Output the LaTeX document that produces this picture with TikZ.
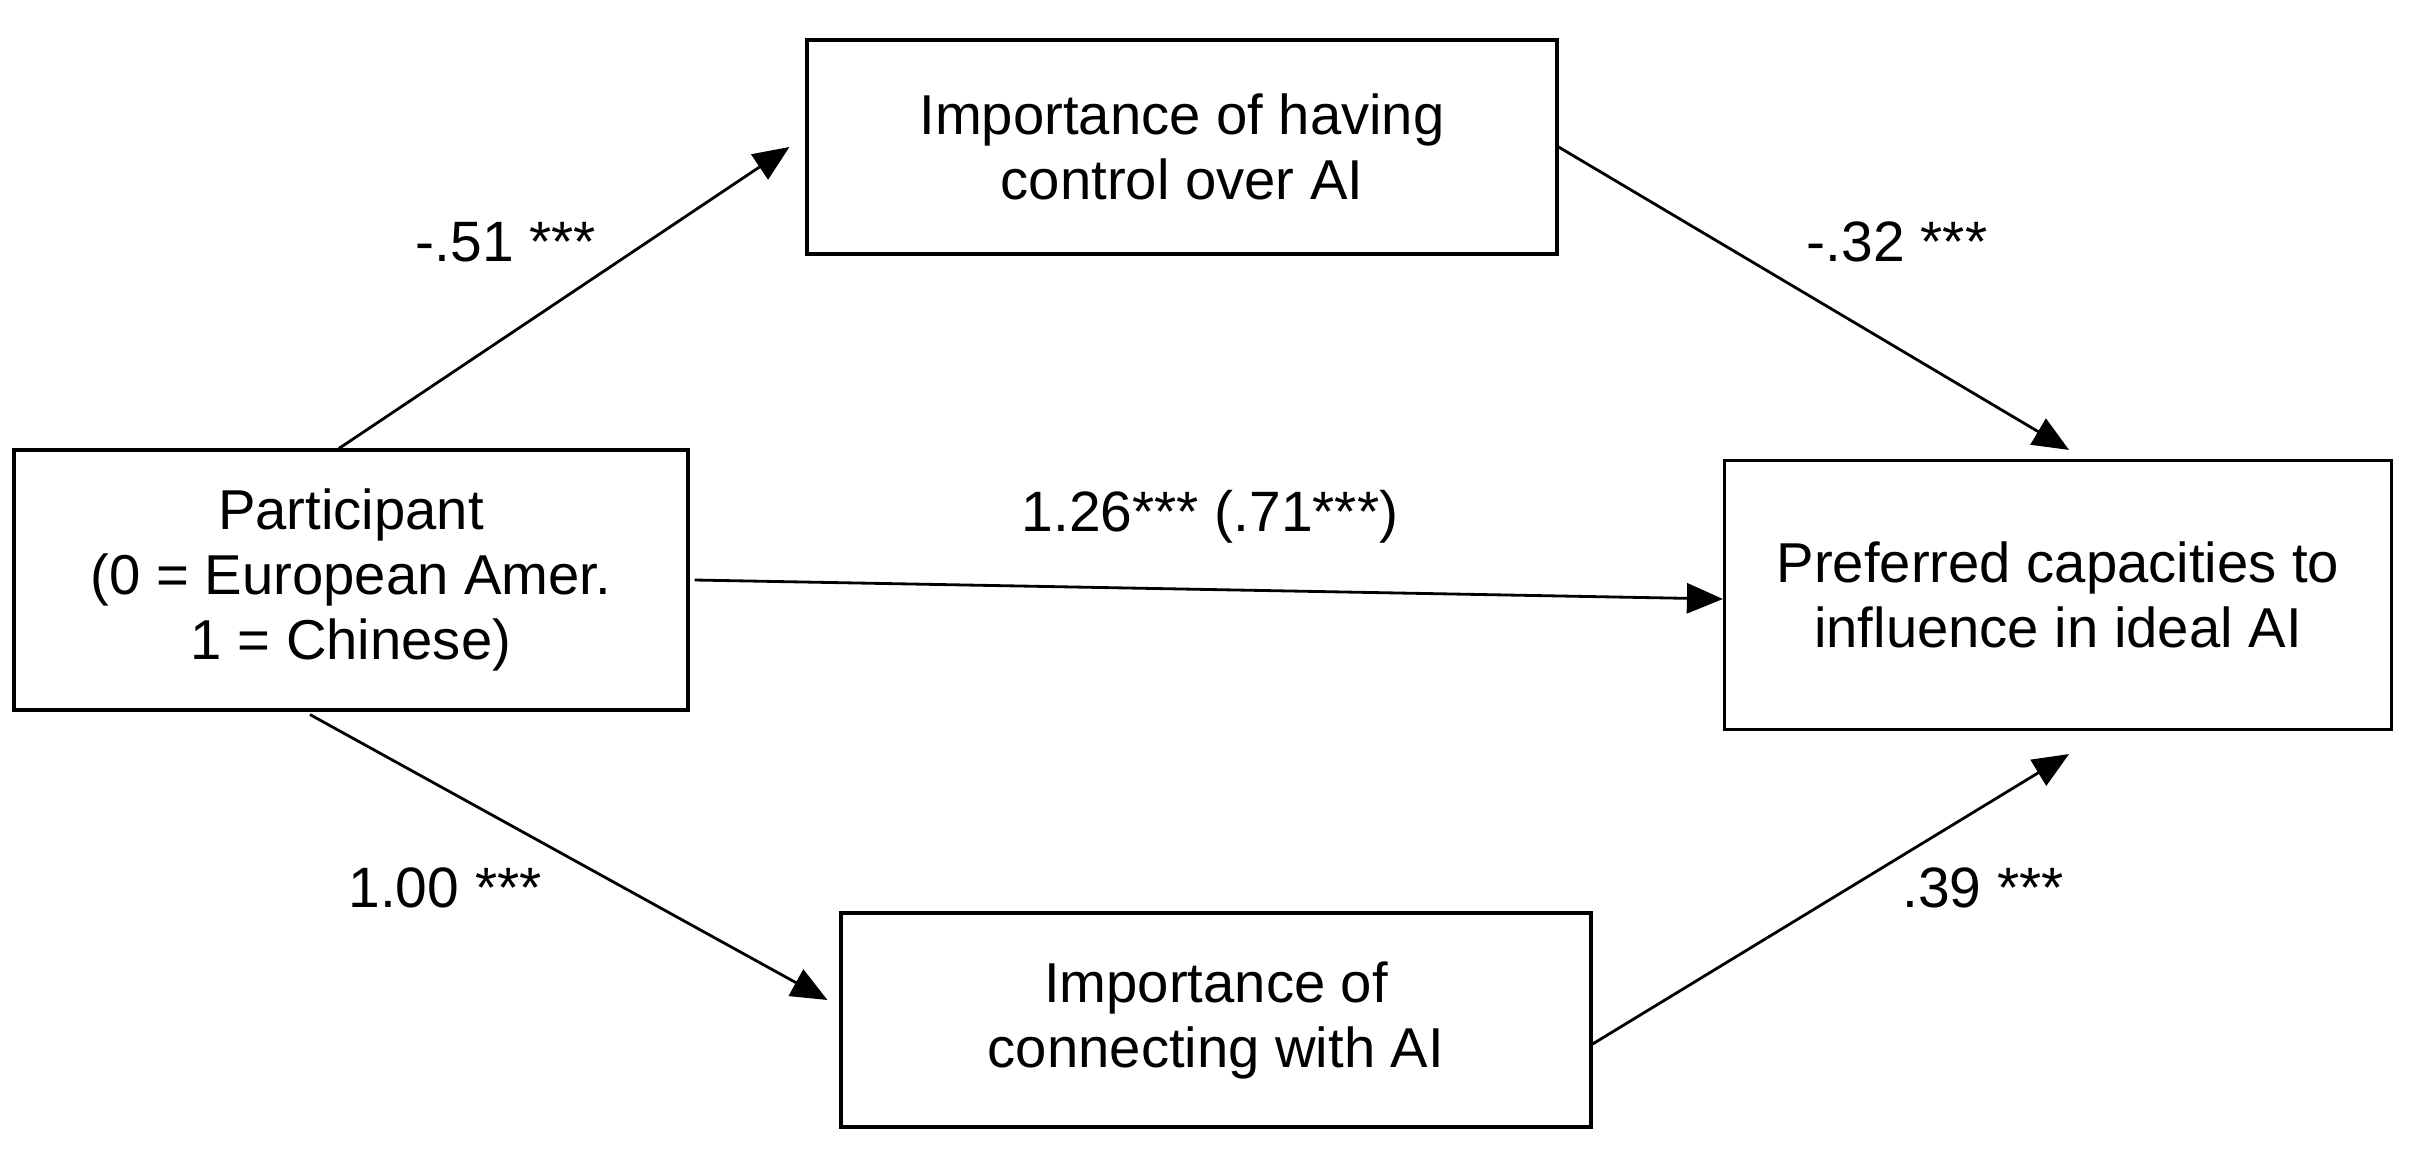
\documentclass[tikz,border=0pt]{standalone}
\usepackage{fontspec}
\setmainfont{Liberation Sans}
\usepackage{tikz}
\usetikzlibrary{arrows.meta}

\begin{document}
\begin{tikzpicture}[
  var/.style={draw, line width=0.9pt, minimum width=7.5cm, minimum height=2.14cm, font=\fontsize{16}{18.5}\selectfont, align=center, inner sep=0pt},
  coef/.style={font=\fontsize{16.2}{18.5}\selectfont, inner sep=0pt},
  arr/.style={-{Triangle[length=0.36cm, width=0.3cm]}, line width=0.8pt},
]
\useasboundingbox (0,0) rectangle (24.14,11.68);
\node[var] (ctrl) at (11.82, 10.21) {Importance of having\\control over AI};
\node[var, minimum width=6.74cm, minimum height=2.6cm] (part) at (3.51, 5.88) {Participant\\(0 = European Amer.\\1 = Chinese)};
\node[var, minimum width=6.67cm, minimum height=2.69cm] (pref) at (20.58, 5.73) {Preferred capacities to\\influence in ideal AI};
\node[var] (conn) at (12.16, 1.48) {Importance of\\connecting with AI};
\node[coef] (a1) at (5.06, 9.26) {-.51 ***};
\node[coef] (b1) at (18.97, 9.26) {-.32 ***};
\node[coef] (c1) at (12.10, 6.51) {1.26*** (.71***)};
\node[coef] (a2) at (4.45, 2.80) {1.00 ***};
\node[coef] (b2) at (19.83, 2.80) {.39 ***};
\draw[arr] ([xshift=-0.12cm]part.north) -- ([xshift=-0.16cm]ctrl.west);
\draw[arr] (ctrl.east) -- ([xshift=0.11cm, yshift=0.09cm]pref.north);
\draw[arr] ([xshift=0.05cm]part.east) -- ([yshift=-0.04cm]pref.west);
\draw[arr] ([xshift=-0.41cm, yshift=-0.03cm]part.south) -- ([xshift=-0.12cm, yshift=0.2cm]conn.west);
\draw[arr] ([yshift=-0.24cm]conn.east) -- ([xshift=0.11cm, yshift=-0.23cm]pref.south);
\end{tikzpicture}
\end{document}
